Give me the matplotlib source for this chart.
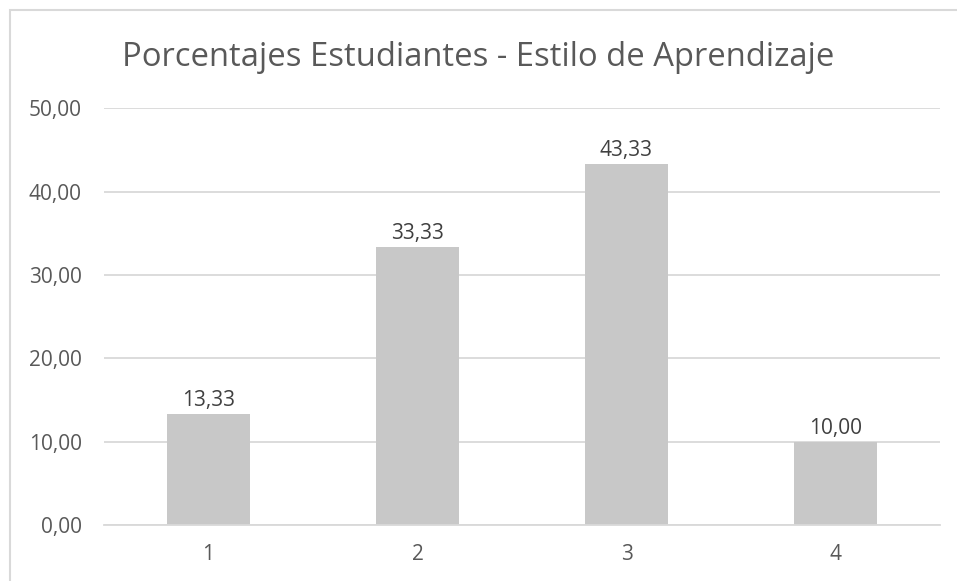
import matplotlib
matplotlib.use('Agg')
import matplotlib.pyplot as plt
from matplotlib.patches import Rectangle
import numpy as np

# data
categories = ['1', '2', '3', '4']
values = [13.33, 33.33, 43.33, 10.00]
yticks = [0, 10, 20, 30, 40, 50]

title = 'Porcentajes Estudiantes - Estilo de Aprendizaje'
txt_color = '#595959'
grid_color = '#D9D9D9'
bar_color = '#C8C8C8'

plt.rcParams['font.family'] = ['Open Sans', 'DejaVu Sans']

W, H = 957, 581
fig = plt.figure(figsize=(W / 100, H / 100), dpi=100)

# chart border (cut off at right and bottom, like the screenshot)
fig.patches.append(Rectangle((10 / W, -0.1), 1.2, 1 - 10 / H + 0.1,
                             transform=fig.transFigure, fill=False,
                             edgecolor=grid_color, linewidth=1.5))

ax = fig.add_axes([104 / W, 1 - 525 / H, (940 - 104) / W, (525 - 108.3) / H])

x = np.arange(len(categories))
bars = ax.bar(x, values, width=0.4, color=bar_color, zorder=2)

ax.set_xlim(-0.5, len(categories) - 0.5)
ax.set_ylim(0, 50)
ax.set_yticks(yticks)
ax.set_yticklabels([('%.2f' % v).replace('.', ',') for v in yticks])
ax.set_xticks(x)
ax.set_xticklabels(categories)
ax.yaxis.grid(True, color=grid_color, linewidth=1.3, zorder=0)
ax.tick_params(length=0, labelsize=15, colors=txt_color)
ax.tick_params(axis='x', pad=14)
ax.tick_params(axis='y', pad=16)
for s in ['top', 'right', 'left']:
    ax.spines[s].set_visible(False)
ax.spines['bottom'].set_color(grid_color)
ax.spines['bottom'].set_linewidth(1.3)

for b, v in zip(bars, values):
    ax.annotate(('%.2f' % v).replace('.', ','),
                (b.get_x() + b.get_width() / 2, v),
                xytext=(0, 2), textcoords='offset points',
                ha='center', va='bottom', fontsize=15, color='#404040')

fig.text(0.5, 1 - 58 / H, title, ha='center', va='center',
         fontsize=23.6, color=txt_color)

fig.savefig('out.png', dpi=100, facecolor='white')
